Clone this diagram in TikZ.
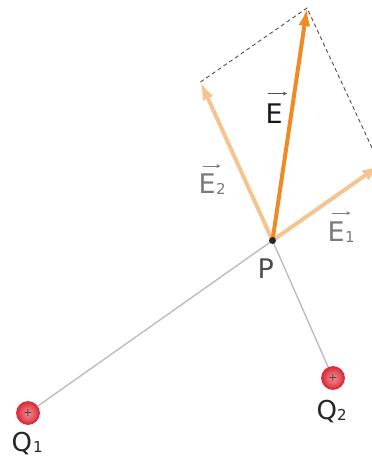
\documentclass[tikz,border=0pt]{standalone}
\usepackage{fontspec}
\setmainfont{DejaVu Sans}
\usetikzlibrary{arrows.meta}
\definecolor{eor}{HTML}{F08A24}
\definecolor{elt}{HTML}{F6C490}
\definecolor{lgray}{HTML}{BDBDBD}
\definecolor{dgray}{HTML}{505050}
\definecolor{tgray}{HTML}{7A7A7A}
\definecolor{qred}{HTML}{D9303F}
\definecolor{qpink}{HTML}{F59094}
\tikzset{
 vecarrow/.style={line width=4pt, -{Latex[length=18pt,width=12pt]}},
 dashln/.style={draw=dgray, line width=0.9pt, dash pattern=on 4pt off 3pt},
 link/.style={draw=lgray, line width=1.4pt},
 charge/.style={circle, minimum size=22pt, inner sep=0pt, draw=qred, line width=1.8pt, inner color=qpink, outer color=qred, font=\fontsize{11}{11}\selectfont, text=black!75},
 dot/.style={circle, fill=black!85, inner sep=0pt, minimum size=7pt},
 lab/.style={inner sep=0pt, anchor=base west, font=\fontsize{27}{27}\selectfont},
 sublab/.style={inner sep=0pt, anchor=base west, font=\fontsize{15}{15}\selectfont},
 qlab/.style={inner sep=0pt, anchor=base west, font=\fontsize{26}{26}\selectfont, text=black!85},
 ovar/.style={line width=1pt, -{Stealth[length=4pt,width=4pt]}},
}
\begin{document}
\begin{tikzpicture}[x=1pt,y=-1pt]
\useasboundingbox (0,0) rectangle (372,461);
\clip (0,0) rectangle (372,461);
% points
\coordinate (P) at (272.5,240.5);
\coordinate (tE) at (307,8);
\coordinate (tE1) at (380,165);
\coordinate (tE2) at (200.5,82);
% charges
\node[charge] (q1) at (28,413) {+};
\node[charge] (q2) at (333,378) {+};
% links
\draw[link] (P) -- (q1);
\draw[link] (P) -- (q2);
% parallelogram
\draw[dashln] (tE2) -- (tE) -- (tE1);
% field vectors
\draw[vecarrow, draw=elt, fill=elt] (P) -- (tE1);
\draw[vecarrow, draw=elt, fill=elt] (P) -- (tE2);
\draw[vecarrow, draw=eor, fill=eor] (P) -- (tE);
\node[dot] (pd) at (P) {};
% labels
\node[lab, text=black!90] (lE) at (265.5,123) {E};
\draw[ovar, draw=dgray] ([xshift=2.5pt,yshift=9.5pt]lE.north west) -- ([xshift=4pt,yshift=9.5pt]lE.north east);
\node[lab, text=tgray] (lE2) at (198.5,193) {E};
\node[sublab, text=tgray] (sE2) at (216,194) {2};
\draw[ovar, draw=tgray] ([xshift=4pt,yshift=7pt]lE2.north west) -- ([xshift=4.5pt,yshift=7pt]lE2.north east);
\node[lab, text=tgray] (lE1) at (327.5,241) {E};
\node[sublab, text=tgray] (sE1) at (345,242) {1};
\draw[ovar, draw=tgray] ([xshift=4pt,yshift=8pt]lE1.north west) -- ([xshift=5.5pt,yshift=8pt]lE1.north east);
\node[lab, text=dgray] (lP) at (257.5,278) {P};
\node[qlab] (lQ1) at (11.5,451) {Q};
\node[sublab, text=black!85] (sQ1) at (33,452) {1};
\node[qlab] (lQ2) at (316.5,419) {Q};
\node[sublab, text=black!85] (sQ2) at (337,420) {2};
\end{tikzpicture}
\end{document}
